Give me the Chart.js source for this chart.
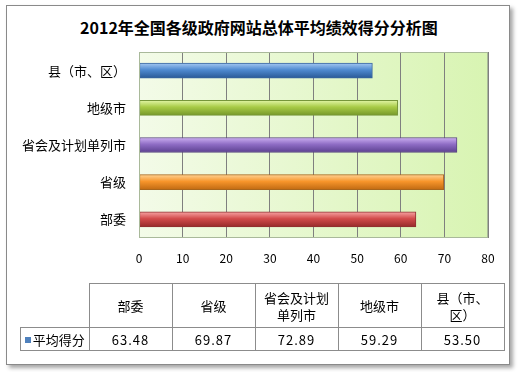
<!DOCTYPE html>
<html>
<head>
<meta charset="utf-8">
<script src="https://cdn.jsdelivr.net/npm/chart.js@4/dist/chart.umd.min.js"></script>
<style>
  html, body { margin: 0; padding: 0; background: #fff; }
  #wrap { position: relative; width: 525px; height: 372px; overflow: hidden; font-family: "Noto Sans CJK SC", sans-serif; }
  #frame { position: absolute; left: 6px; top: 5px; width: 502px; height: 358px; border: 1px solid #8a8a8a; box-shadow: 3px 3px 4px rgba(0,0,0,0.35); background: #fff; }
  #title { position: absolute; left: 0; width: 518px; top: 15px; text-align: center; font-size: 16px; font-weight: bold; color: #000; }
  canvas { position: absolute; left: 0; top: 0; }
  #tbl { position: absolute; left: 20px; top: 283px; border-collapse: collapse; font-size: 13px; color: #000; }
  #tbl td { border: 1px solid #8c8c8c; text-align: center; padding: 0 6px; line-height: 17px; }
  #tbl td.blank { border: none; border-right: 1px solid #8c8c8c; border-bottom: 1px solid #8c8c8c; }
  #tbl .sq { display: inline-block; width: 6px; height: 6px; background: #4f81bd; margin-right: 2px; vertical-align: 2px; }
</style>
</head>
<body>
<div id="wrap">
  <div id="frame"></div>
  <div id="title"></div>
  <canvas id="barChart" width="525" height="372"></canvas>
  <table id="tbl"></table>
</div>
<script>
const chartTitle = '2012年全国各级政府网站总体平均绩效得分分析图';
const categories = ['部委', '省级', '省会及计划单列市', '地级市', '县（市、区）'];
const seriesName = '平均得分';
const scores = [63.48, 69.87, 72.89, 59.29, 53.50];
const xTicks = [0, 10, 20, 30, 40, 50, 60, 70, 80];

// top / middle / bottom shade and border for each bar
const barShades = [
    ['#f7a3a3', '#d24b4b', '#962a2a', '#8e3030'],
    ['#ffd394', '#f7952b', '#c06a12', '#a8661c'],
    ['#cdb0f2', '#8f6dc5', '#5b3f8f', '#5a4880'],
    ['#e2f6a6', '#a8cb46', '#76982a', '#76963a'],
    ['#a4c8f2', '#4f8ad0', '#295996', '#3a679f']
];

document.getElementById('title').textContent = chartTitle;

function renderTable() {
    let head = '<tr><td class="blank" style="width:56px;height:43px;"></td>';
    categories.forEach(c => {
        head += `<td style="width:70px;height:43px;">${c}</td>`;
    });
    head += '</tr>';
    let row = `<tr><td style="height:22px;padding:0 2px;"><span class="sq"></span>${seriesName}</td>`;
    scores.forEach(v => {
        row += `<td style="height:22px;letter-spacing:1px;">${v.toFixed(2)}</td>`;
    });
    row += '</tr>';
    document.getElementById('tbl').innerHTML = head + row;
}

function barFill(context) {
    const chart = context.chart;
    const shade = barShades[context.dataIndex];
    if (!chart.chartArea) return shade[1];
    const y = chart.scales.y.getPixelForValue(context.dataIndex);
    const g = chart.ctx.createLinearGradient(0, y - 7.5, 0, y + 7.5);
    g.addColorStop(0, shade[0]);
    g.addColorStop(0.45, shade[1]);
    g.addColorStop(1, shade[2]);
    return g;
}

const plotBackground = {
    id: 'plotBackground',
    beforeDraw(chart) {
        const { ctx, chartArea: a } = chart;
        const g = ctx.createLinearGradient(a.left, 0, a.right, 0);
        g.addColorStop(0, '#f3fbe8');
        g.addColorStop(1, '#d8f4b2');
        ctx.save();
        ctx.fillStyle = g;
        ctx.fillRect(a.left, a.top, a.right - a.left, a.bottom - a.top);
        ctx.restore();
    },
    afterDraw(chart) {
        const { ctx, chartArea: a } = chart;
        ctx.save();
        ctx.strokeStyle = '#a9b99a';
        ctx.lineWidth = 1;
        ctx.strokeRect(a.left + 0.5, a.top + 0.5, a.right - a.left - 1, a.bottom - a.top - 1);
        ctx.restore();
    }
};

function initChart() {
    const data = {
        labels: categories,
        datasets: [{
            label: seriesName,
            data: scores,
            backgroundColor: barFill,
            borderColor: barShades.map(s => s[3]),
            borderWidth: 1,
            borderSkipped: false,
            barThickness: 15
        }]
    };
    const config = {
        type: 'bar',
        data,
        options: {
            indexAxis: 'y',
            responsive: false,
            animation: false,
            layout: { padding: { top: 52, right: 37, bottom: 104, left: 0 } },
            plugins: {
                legend: { display: false },
                tooltip: { enabled: false }
            },
            scales: {
                x: {
                    min: xTicks[0],
                    max: xTicks[xTicks.length - 1],
                    afterBuildTicks: scale => { scale.ticks = xTicks.map(v => ({ value: v })); },
                    afterFit: scale => { scale.height = 30; },
                    grid: { color: '#7f7f7f', drawTicks: false },
                    border: { display: false },
                    ticks: { padding: 13, color: '#000', font: { family: 'Noto Sans CJK SC', size: 12 } }
                },
                y: {
                    reverse: true,
                    afterFit: scale => { scale.width = 139; },
                    grid: { display: false, drawTicks: false },
                    border: { display: false },
                    ticks: { padding: 13, color: '#000', font: { family: 'Noto Sans CJK SC', size: 13 } }
                }
            }
        },
        plugins: [plotBackground]
    };
    new Chart(document.getElementById('barChart'), config);
}

renderTable();
initChart();
</script>
</body>
</html>
